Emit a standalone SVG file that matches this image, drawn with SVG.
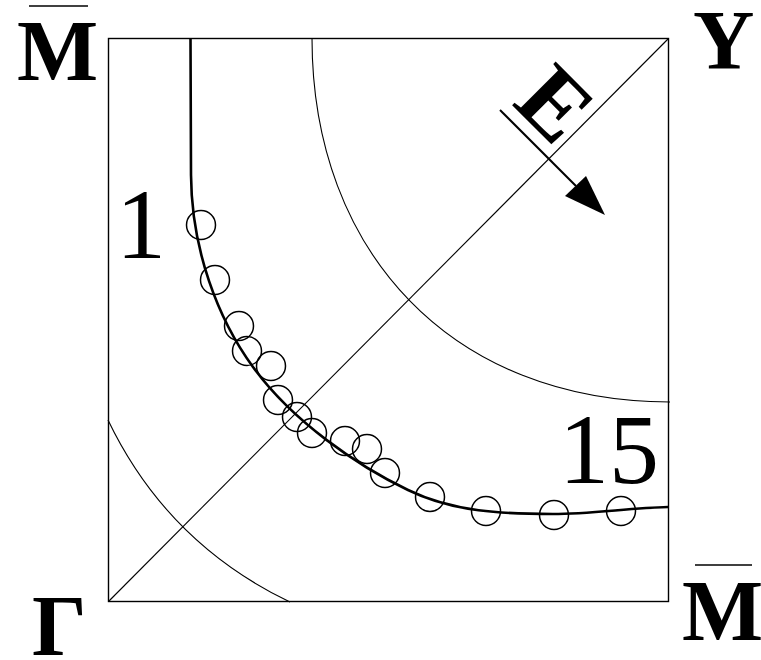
<svg xmlns="http://www.w3.org/2000/svg" width="761" height="660" viewBox="0 0 761 660">
<style>
.thin{fill:none;stroke:#000;stroke-width:1.1}
.frame{fill:none;stroke:#000;stroke-width:1.4}
.band{fill:none;stroke:#000;stroke-width:2.6}
.pt{fill:none;stroke:#000;stroke-width:1.5}
.lab{font-family:"Liberation Serif","Times New Roman",serif;font-weight:bold;fill:#000}
.num{font-family:"Liberation Serif","Times New Roman",serif;fill:#000;font-size:100px}
</style>
<rect width="761" height="660" fill="#fff"/>
<g id="frame">
<rect class="frame" x="108.5" y="38.5" width="560" height="563"/>
</g>
<g id="connectors">
<line class="thin" x1="108.5" y1="601.5" x2="668.5" y2="38.5"/>
<path id="arc-outer" class="thin" d="M312,38 C312,253 453,402 670,402"/>
<path id="arc-inner" class="thin" d="M108,420 Q167,543 290,602"/>
<path id="band-curve" class="band" d="M190.5,38 L191,175 C191.5,250 218,319 253,367 C293,422 358,466 408,490 C453,512 503,514 553,514 C590,514 630,508 668,507"/>
<g id="field-arrow">
<line x1="500" y1="110" x2="576" y2="186" stroke="#000" stroke-width="2"/>
<polygon points="565,196 586,176 605,215" fill="#000"/>
</g>
</g>
<g id="points">
<circle class="pt" cx="201" cy="225" r="14.5"/>
<circle class="pt" cx="215" cy="280" r="14.5"/>
<circle class="pt" cx="239" cy="326" r="14.5"/>
<circle class="pt" cx="247" cy="351" r="14.5"/>
<circle class="pt" cx="271" cy="366" r="14.5"/>
<circle class="pt" cx="278" cy="400" r="14.5"/>
<circle class="pt" cx="297" cy="417" r="14.5"/>
<circle class="pt" cx="312" cy="433" r="14.5"/>
<circle class="pt" cx="345" cy="441" r="14.5"/>
<circle class="pt" cx="367" cy="449" r="14.5"/>
<circle class="pt" cx="385" cy="473" r="14.5"/>
<circle class="pt" cx="430" cy="497" r="14.5"/>
<circle class="pt" cx="486" cy="511" r="14.5"/>
<circle class="pt" cx="554" cy="515" r="14.5"/>
<circle class="pt" cx="621" cy="511" r="14.5"/>
</g>
<g id="label-M-top">
<text class="lab" x="17" y="80" font-size="86">M</text>
<line x1="29" y1="6" x2="88" y2="6" stroke="#000" stroke-width="1.5"/>
</g>
<g id="label-Y">
<text class="lab" x="693" y="69" font-size="85">Y</text>
</g>
<g id="label-Gamma">
<text class="lab" x="32" y="655" font-size="86">Γ</text>
</g>
<g id="label-M-bottom">
<text class="lab" x="682" y="640" font-size="86">M</text>
<line x1="695" y1="565" x2="752" y2="565" stroke="#000" stroke-width="1.5"/>
</g>
<g id="label-E">
<text class="lab" font-size="94" transform="translate(511,104) rotate(45)">E</text>
</g>
<g id="label-1"><text class="num" x="116" y="258">1</text></g>
<g id="label-15"><text class="num" x="559" y="483">15</text></g>
</svg>
